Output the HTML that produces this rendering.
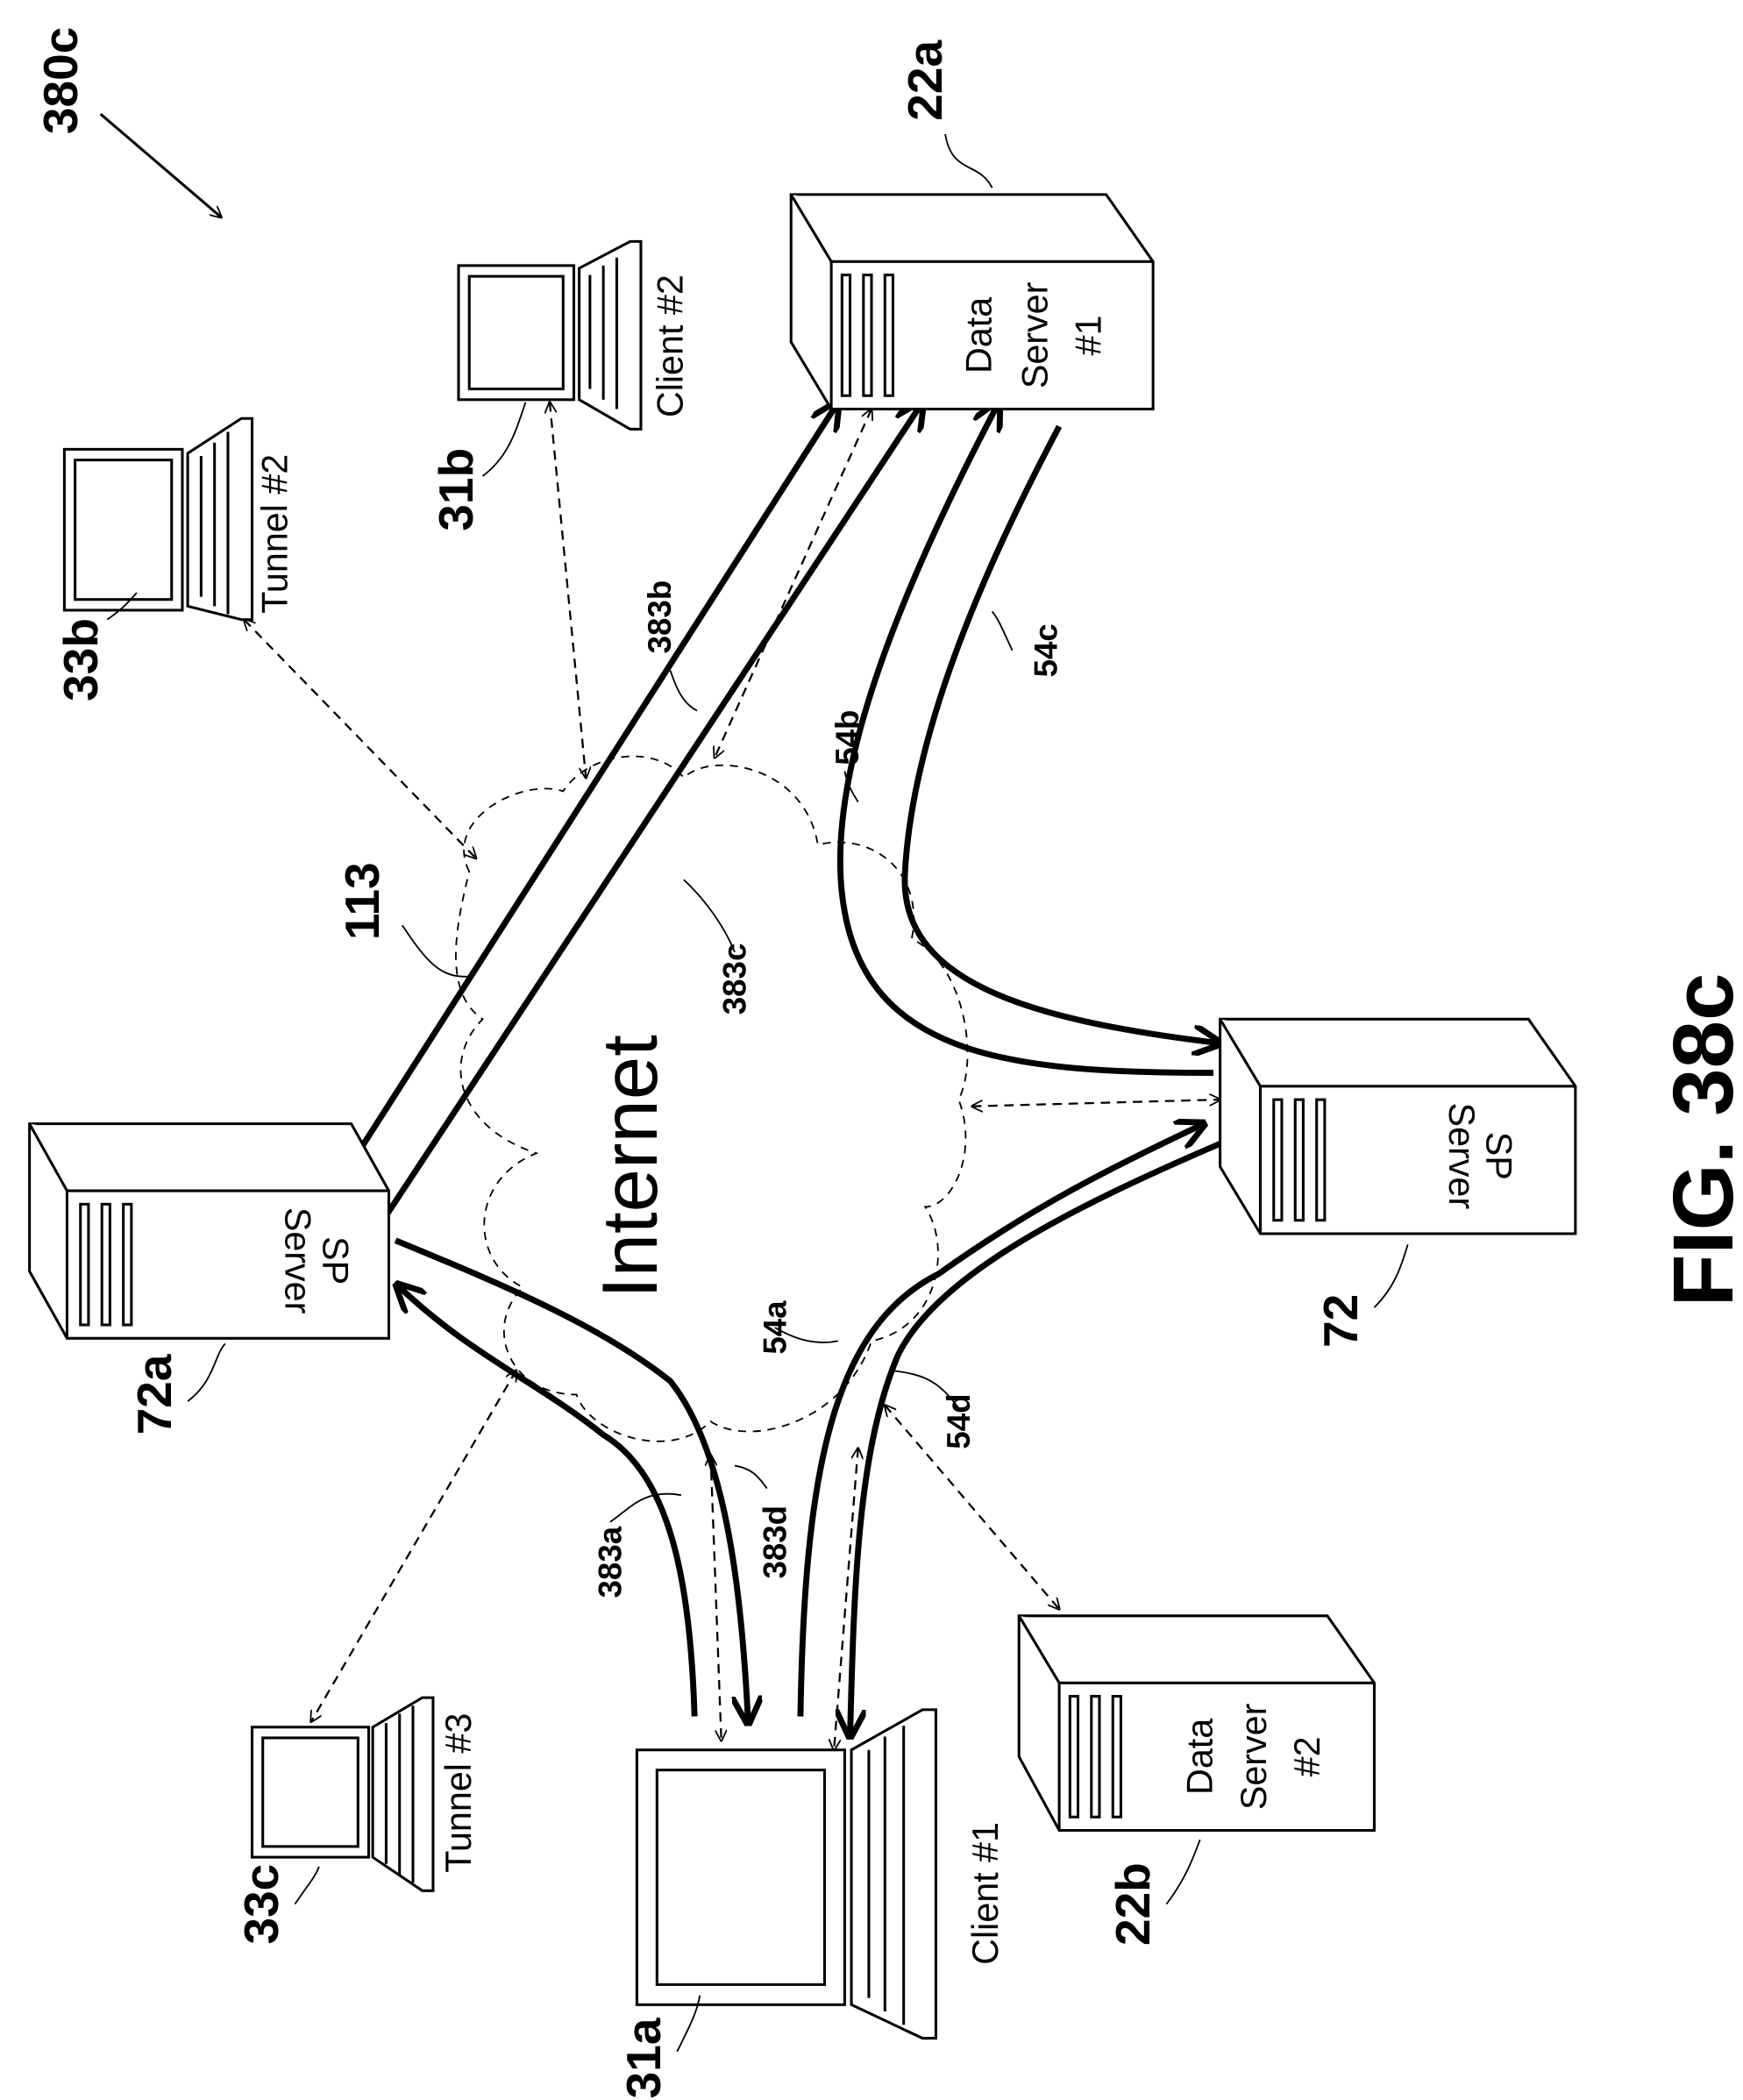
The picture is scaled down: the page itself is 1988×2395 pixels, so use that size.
<!DOCTYPE html>
<html><head><meta charset="utf-8"><style>
html,body{margin:0;padding:0;background:#fff;}
svg{display:block;}
text{font-family:"Liberation Sans",sans-serif;fill:#000;}
</style></head><body>
<svg width="1988" height="2395" viewBox="0 0 1300 1566" xmlns="http://www.w3.org/2000/svg">
<defs>
<marker id="ah" viewBox="0 0 10 10" refX="9" refY="5" markerWidth="5" markerHeight="5" orient="auto-start-reverse"><path d="M0,0 L10,5 L0,10" fill="none" stroke="#000" stroke-width="2"/></marker>
<marker id="as" viewBox="0 0 10 10" refX="9" refY="5" markerWidth="9" markerHeight="9" orient="auto-start-reverse" markerUnits="userSpaceOnUse"><path d="M0,0 L10,5 L0,10" fill="none" stroke="#000" stroke-width="1.3"/></marker>
</defs>
<g fill="none" stroke="#000">
<line x1="75" y1="85" x2="165" y2="162" stroke-width="2" marker-end="url(#as)"/>
<g stroke-width="1.2" stroke-dasharray="6,5">
<path d="M350,650 C330,610 390,580 420,590 C440,560 490,555 510,580 C530,560 600,570 610,630 C650,620 690,650 680,700 C720,720 730,790 715,820 C730,860 710,900 690,900 C710,930 700,990 650,1000 C630,1060 560,1080 530,1060 C500,1090 440,1070 430,1040 C380,1040 360,990 390,960 C350,940 350,880 400,860 C340,840 330,790 360,760 C330,740 340,690 350,650 Z"/>
</g>
<g stroke-width="4.5">
<path d="M270,855 L625,300" marker-end="url(#ah)"/>
<path d="M287,908 L688,300" marker-end="url(#ah)"/>
<path d="M905,800 C760,800 650,790 630,680 C615,600 650,480 745,300" marker-end="url(#ah)"/>
<path d="M790,318 C720,450 680,560 675,650 C670,730 760,760 910,778" marker-end="url(#ah)"/>
<path d="M597,1280 C600,1100 620,990 700,950 C770,900 830,870 898,838" marker-end="url(#ah)"/>
<path d="M912,852 C800,900 700,950 670,1010 C640,1080 637,1180 634,1295" marker-end="url(#ah)"/>
<path d="M518,1280 C515,1180 500,1100 450,1070 C400,1030 350,1010 296,958" marker-end="url(#ah)"/>
<path d="M295,925 C380,960 450,990 500,1030 C540,1080 553,1180 558,1285" marker-end="url(#ah)"/>
</g>
<g stroke-width="1.5" stroke-dasharray="7,5">
<line x1="650" y1="305" x2="533" y2="565" marker-start="url(#as)" marker-end="url(#as)"/>
<line x1="410" y1="300" x2="437" y2="580" marker-start="url(#as)" marker-end="url(#as)"/>
<line x1="182" y1="462" x2="355" y2="640" marker-start="url(#as)" marker-end="url(#as)"/>
<line x1="725" y1="825" x2="910" y2="820" marker-start="url(#as)" marker-end="url(#as)"/>
<line x1="385" y1="1022" x2="232" y2="1284" marker-start="url(#as)" marker-end="url(#as)"/>
<line x1="660" y1="1048" x2="790" y2="1200" marker-start="url(#as)" marker-end="url(#as)"/>
<line x1="530" y1="1085" x2="538" y2="1298" marker-start="url(#as)" marker-end="url(#as)"/>
<line x1="640" y1="1080" x2="622" y2="1305" marker-start="url(#as)" marker-end="url(#as)"/>
</g>
<g stroke-width="2" fill="#fff">
<polygon points="590,145 825,145 860,195 860,305 620,305 590,255"/>
<polyline points="590,145 620,195 860,195" /><line x1="620" y1="195" x2="620" y2="305"/>
<rect x="628" y="205" width="6" height="90"/><rect x="644" y="205" width="6" height="90"/><rect x="660" y="205" width="6" height="90"/>
<polygon points="22,838 262,838 290,888 290,998 50,998 22,948"/>
<polyline points="22,838 50,888 290,888"/><line x1="50" y1="888" x2="50" y2="998"/>
<rect x="60" y="898" width="6" height="90"/><rect x="76" y="898" width="6" height="90"/><rect x="92" y="898" width="6" height="90"/>
<polygon points="910,760 1140,760 1175,810 1175,920 940,920 910,870"/>
<polyline points="910,760 940,810 1175,810"/><line x1="940" y1="810" x2="940" y2="920"/>
<rect x="950" y="820" width="6" height="90"/><rect x="966" y="820" width="6" height="90"/><rect x="982" y="820" width="6" height="90"/>
<polygon points="760,1205 990,1205 1025,1255 1025,1365 790,1365 760,1310"/>
<polyline points="760,1205 790,1255 1025,1255"/><line x1="790" y1="1255" x2="790" y2="1365"/>
<rect x="798" y="1265" width="6" height="90"/><rect x="814" y="1265" width="6" height="90"/><rect x="830" y="1265" width="6" height="90"/>
</g>
<g stroke-width="2" fill="#fff">
<rect x="342" y="198" width="86" height="100"/><rect x="350" y="206" width="70" height="84"/>
<polygon points="432,200 470,180 478,180 478,320 470,320 432,298"/>
<line x1="440" y1="205" x2="440" y2="290"/><line x1="450" y1="198" x2="450" y2="298"/><line x1="460" y1="192" x2="460" y2="305"/>
<rect x="48" y="335" width="88" height="120"/><rect x="56" y="343" width="72" height="104"/>
<polygon points="140,338 180,312 188,312 188,462 180,462 140,452"/>
<line x1="150" y1="340" x2="150" y2="445"/><line x1="160" y1="330" x2="160" y2="452"/><line x1="170" y1="322" x2="170" y2="458"/>
<rect x="475" y="1305" width="155" height="190"/><rect x="490" y="1320" width="125" height="160"/>
<polygon points="635,1305 688,1275 698,1275 698,1520 688,1520 635,1495"/>
<line x1="648" y1="1305" x2="648" y2="1490"/><line x1="660" y1="1295" x2="660" y2="1500"/><line x1="674" y1="1287" x2="674" y2="1510"/>
<rect x="188" y="1288" width="87" height="97"/><rect x="196" y="1296" width="71" height="81"/>
<polygon points="278,1288 315,1266 323,1266 323,1410 315,1410 278,1385"/>
<line x1="288" y1="1285" x2="288" y2="1390"/><line x1="298" y1="1278" x2="298" y2="1398"/><line x1="308" y1="1272" x2="308" y2="1404"/>
</g>
<g stroke-width="1.2">
<path d="M705,100 C710,130 730,120 740,140"/>
<path d="M360,355 C380,340 385,320 392,300"/>
<path d="M80,462 C90,455 95,450 102,442"/>
<path d="M300,690 C320,720 330,730 352,728"/>
<path d="M140,1045 C160,1030 160,1010 168,1002"/>
<path d="M1025,975 C1040,960 1045,945 1050,928"/>
<path d="M870,1420 C885,1400 890,1385 895,1372"/>
<path d="M505,1530 C515,1510 520,1500 522,1488"/>
<path d="M220,1420 C230,1405 235,1400 238,1392"/>
<path d="M500,500 C505,515 510,525 520,530"/>
<path d="M630,575 C632,585 635,590 640,598"/>
<path d="M755,485 C748,470 745,462 740,456"/>
<path d="M548,710 C540,690 525,670 510,656"/>
<path d="M578,990 C595,1000 610,1003 625,1000"/>
<path d="M715,1050 C700,1030 690,1025 665,1022"/>
<path d="M455,1135 C470,1125 480,1110 508,1115"/>
<path d="M572,1110 C565,1100 560,1095 548,1093"/>
</g>
</g>
<g font-weight="bold" font-size="36" text-anchor="middle" dominant-baseline="central">
<text transform="translate(45,60) rotate(-90)">380c</text>
<text transform="translate(690,60) rotate(-90)">22a</text>
<text transform="translate(340,365) rotate(-90)">31b</text>
<text transform="translate(60,492) rotate(-90)">33b</text>
<text transform="translate(270,672) rotate(-90)">113</text>
<text transform="translate(115,1040) rotate(-90)">72a</text>
<text transform="translate(1000,985) rotate(-90)">72</text>
<text transform="translate(845,1420) rotate(-90)">22b</text>
<text transform="translate(480,1535) rotate(-90)">31a</text>
<text transform="translate(195,1420) rotate(-90)">33c</text>
<text transform="translate(1270,850) rotate(-90)" font-size="64">FIG. 38c</text>
</g>
<g font-weight="bold" font-size="24" text-anchor="middle" dominant-baseline="central">
<text transform="translate(492,460) rotate(-90)">383b</text>
<text transform="translate(632,550) rotate(-90)">54b</text>
<text transform="translate(780,485) rotate(-90)">54c</text>
<text transform="translate(548,730) rotate(-90)">383c</text>
<text transform="translate(578,990) rotate(-90)">54a</text>
<text transform="translate(715,1060) rotate(-90)">54d</text>
<text transform="translate(455,1165) rotate(-90)">383a</text>
<text transform="translate(578,1150) rotate(-90)">383d</text>
</g>
<g font-size="27" text-anchor="middle" dominant-baseline="central">
<text transform="translate(470,870) rotate(-90)" font-size="58">Internet</text>
<text transform="translate(730,250) rotate(-90)">Data</text>
<text transform="translate(772,250) rotate(-90)">Server</text>
<text transform="translate(812,250) rotate(-90)">#1</text>
<text transform="translate(500,258) rotate(-90)">Client #2</text>
<text transform="translate(205,398) rotate(-90)">Tunnel #2</text>
<text transform="translate(250,940) rotate(90)">SP</text>
<text transform="translate(222,940) rotate(90)">Server</text>
<text transform="translate(1118,862) rotate(90)">SP</text>
<text transform="translate(1090,862) rotate(90)">Server</text>
<text transform="translate(895,1310) rotate(-90)">Data</text>
<text transform="translate(935,1310) rotate(-90)">Server</text>
<text transform="translate(975,1310) rotate(-90)">#2</text>
<text transform="translate(735,1412) rotate(-90)">Client #1</text>
<text transform="translate(342,1337) rotate(-90)">Tunnel #3</text>
</g>
</svg>
</body></html>
